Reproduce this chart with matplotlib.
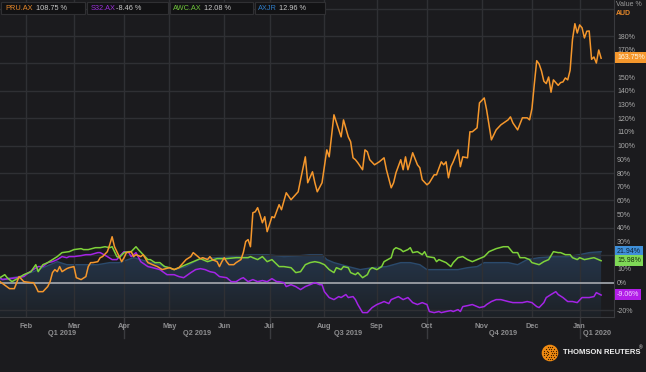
import matplotlib
matplotlib.use("Agg")
import matplotlib.pyplot as plt
import matplotlib.transforms as mtransforms
from matplotlib.patches import Rectangle, Circle
import numpy as np
import pandas as pd

plt.rcParams['font.family'] = ['Liberation Sans', 'DejaVu Sans']

# ASX trading calendar, session 0 = 16 Jan 2019
holidays = ['2019-01-28', '2019-04-19', '2019-04-22', '2019-04-25', '2019-06-10',
            '2019-12-25', '2019-12-26', '2020-01-01']
days = pd.bdate_range('2019-01-16', '2020-01-31', freq='C', holidays=holidays)

month_starts = ['2019-02-01', '2019-03-01', '2019-04-01', '2019-05-01', '2019-06-01', '2019-07-01',
                '2019-08-01', '2019-09-01', '2019-10-01', '2019-11-01', '2019-12-01', '2020-01-01']
month_labels = ['Feb', 'Mar', 'Apr', 'May', 'Jun', 'Jul', 'Aug', 'Sep', 'Oct', 'Nov', 'Dec', 'Jan']
quarter_starts = ['2019-04-01', '2019-07-01', '2019-10-01', '2020-01-01']
quarter_labels = ['Q1 2019', 'Q2 2019', 'Q3 2019', 'Q4 2019', 'Q1 2020']

# PRU.AX (orange)
pru_s = [0, 4, 6, 8, 10, 13, 14, 15, 16, 18, 20, 21, 22, 23, 24, 25, 26, 28, 29, 31, 32, 34, 36, 37, 38,
         39, 41, 42, 43, 45, 46, 47, 48, 49, 51, 52, 53, 55, 56, 57, 59, 60, 62, 64, 66, 68, 71, 73, 75,
         78, 80, 81, 83, 84, 85, 87, 88, 89, 91, 92, 93, 94, 95, 96, 98, 99, 101, 102, 103, 104, 105,
         106, 107, 108, 109, 110, 111, 112, 114, 115, 117, 118, 120, 122, 125, 126, 128, 129, 131, 132,
         133, 135, 137, 138, 140, 143, 144, 146, 147, 148, 149, 150, 152, 153, 154, 155, 157, 159, 161,
         162, 164, 165, 166, 168, 169, 170, 171, 172, 173, 175, 176, 177, 179, 180, 182, 183, 185, 186,
         187, 188, 189, 190, 192, 193, 194, 196, 197, 198, 200, 201, 203, 204, 206, 208, 210, 213, 214,
         215, 217, 219, 221, 222, 223, 224, 225, 226, 227, 228, 229, 230, 231, 232, 233, 234, 235, 236,
         237, 238, 239, 240, 241, 242, 243, 244, 245, 246, 247, 248, 249, 250, 251, 252]
pru_v = [0.7, -4.4, -4.4, 4.4, 0.7, 0.0, 0.0, -2.9, -6.6, -6.6, -2.9, 0.7, 7.3, 9.5, 8.0, 11.7, 8.0,
         10.2, 10.9, 11.7, 3.6, 2.2, 4.4, 11.7, 14.6, 14.6, 15.3, 18.2, 19.0, 22.6, 27.7, 33.5, 26.2,
         22.6, 15.3, 18.2, 21.9, 22.6, 19.0, 20.4, 19.0, 20.4, 14.6, 13.1, 11.7, 9.5, 10.9, 9.5, 10.9,
         16.8, 19.0, 21.9, 19.0, 17.5, 18.2, 16.8, 19.0, 16.8, 15.3, 11.7, 15.3, 18.2, 15.3, 13.1, 13.1,
         14.6, 16.8, 21.9, 30.0, 31.4, 26.2, 51.0, 51.7, 54.7, 49.6, 43.7, 48.1, 37.2, 48.1, 47.4, 56.9,
         53.2, 65.6, 60.5, 66.3, 75.0, 91.8, 72.9, 80.9, 72.9, 66.3, 72.9, 96.9, 91.8, 122.5, 106.4,
         118.8, 106.4, 102.8, 91.1, 89.7, 87.5, 82.4, 96.9, 95.5, 89.7, 86.0, 88.2, 91.1, 82.4, 69.2,
         72.9, 80.2, 89.7, 82.4, 91.8, 82.4, 88.2, 94.8, 86.0, 83.8, 75.1, 71.4, 72.9, 78.7, 78.7, 88.2,
         86.0, 88.2, 76.5, 84.6, 88.2, 96.9, 84.6, 91.8, 91.1, 110.1, 110.1, 113.0, 131.2, 134.8, 126.1,
         104.2, 111.5, 115.2, 118.8, 121.0, 116.6, 111.5, 120.3, 120.3, 118.8, 127.0, 145.0, 162.0,
         159.6, 154.5, 147.0, 145.3, 150.1, 139.0, 148.0, 146.0, 144.0, 146.0, 146.5, 149.4, 148.0,
         155.0, 177.5, 189.0, 182.2, 188.1, 186.0, 178.6, 183.5, 183.7, 163.0, 164.7, 160.3, 169.8, 163.8]

# S32.AX (purple)
s32_s = [0, 1, 4, 7, 10, 12, 14, 16, 18, 20, 22, 24, 26, 28, 29, 31, 34, 36, 38, 41, 42, 45, 47, 49, 50,
         52, 54, 55, 57, 59, 62, 64, 67, 70, 73, 75, 77, 80, 82, 84, 86, 88, 90, 92, 95, 97, 99, 101, 102,
         104, 106, 108, 110, 112, 114, 116, 117, 119, 120, 122, 124, 126, 128, 130, 132, 134, 135, 136,
         138, 140, 142, 143, 145, 146, 148, 149, 150, 152, 154, 156, 158, 160, 161, 163, 164, 166, 167,
         169, 171, 173, 175, 177, 179, 180, 182, 184, 185, 187, 189, 190, 192, 193, 194, 196, 198, 200,
         201, 203, 204, 206, 208, 210, 213, 215, 217, 219, 221, 223, 225, 226, 228, 229, 231, 233, 234,
         236, 238, 240, 242, 244, 247, 249, 250, 252]
s32_v = [3.6, 2.2, 2.9, 3.6, 4.4, 7.3, 9.5, 11.7, 11.7, 14.6, 15.3, 16.8, 19.0, 18.2, 19.0, 19.0, 19.7,
         20.4, 20.4, 21.9, 21.9, 19.0, 16.8, 16.8, 19.0, 22.6, 21.9, 19.0, 21.9, 15.3, 11.7, 10.9, 9.5,
         5.8, 5.8, 4.4, 3.6, 7.3, 9.5, 10.2, 9.5, 8.0, 7.3, 4.4, 3.6, 0.7, 0.7, 2.9, 3.6, 0.7, 2.2, 0.7,
         1.5, 0.7, 2.9, 0.7, 0.7, 0.0, -2.9, -1.5, -2.9, -5.1, -2.9, -1.5, 0.0, -1.5, -1.5, -6.6, -10.9,
         -12.4, -10.2, -10.9, -8.7, -10.9, -10.2, -12.4, -16.0, -21.9, -21.9, -18.2, -16.0, -14.6, -13.8,
         -15.3, -12.4, -10.9, -10.2, -12.4, -10.9, -14.6, -16.0, -14.6, -16.0, -21.1, -21.9, -21.1,
         -21.9, -21.1, -20.4, -21.1, -19.7, -21.1, -17.5, -16.8, -16.0, -17.5, -18.2, -17.5, -16.0,
         -13.8, -12.4, -12.4, -13.8, -14.6, -14.6, -14.6, -13.8, -14.6, -17.5, -18.2, -14.6, -10.9,
         -8.7, -6.6, -8.7, -10.9, -13.8, -13.8, -14.6, -10.9, -10.9, -10.2, -7.3, -9.06]

# AWC.AX (green)
awc_s = [0, 2, 3, 5, 8, 10, 13, 15, 16, 18, 20, 22, 24, 26, 29, 31, 34, 35, 37, 40, 42, 44, 46, 47, 49,
         50, 52, 54, 55, 57, 58, 60, 62, 63, 65, 67, 69, 71, 73, 75, 78, 81, 83, 84, 87, 91, 95, 99, 104,
         105, 106, 108, 110, 112, 114, 117, 119, 122, 124, 126, 128, 130, 132, 134, 136, 138, 140, 141,
         143, 144, 146, 147, 149, 150, 152, 154, 155, 156, 158, 160, 161, 164, 165, 166, 168, 169, 171,
         172, 173, 175, 177, 178, 179, 182, 183, 184, 187, 189, 190, 192, 194, 196, 198, 200, 203, 205,
         208, 211, 213, 214, 215, 217, 218, 220, 222, 223, 226, 228, 230, 232, 234, 235, 237, 239, 240,
         242, 243, 245, 247, 249, 252]
awc_v = [3.6, 5.8, 3.6, 0.7, 3.6, 5.8, 8.0, 13.1, 8.0, 13.1, 14.6, 16.8, 19.0, 21.9, 22.6, 24.1, 24.8,
         24.1, 24.1, 25.5, 25.5, 26.2, 25.5, 26.2, 19.0, 18.2, 21.9, 22.6, 22.6, 26.2, 24.1, 20.4, 16.8,
         16.8, 14.6, 14.6, 11.7, 10.9, 9.5, 10.9, 13.1, 15.3, 16.8, 17.5, 15.3, 17.5, 17.5, 18.2, 18.2,
         19.0, 18.2, 16.8, 19.0, 15.3, 16.8, 11.7, 11.7, 10.9, 7.3, 8.0, 13.1, 14.6, 15.3, 14.6, 13.1,
         9.5, 7.3, 10.9, 9.5, 11.7, 10.9, 7.3, 5.8, 7.3, 3.6, 5.8, 9.5, 10.9, 9.5, 11.7, 15.3, 18.2,
         24.1, 25.5, 24.1, 22.6, 24.1, 25.5, 21.9, 22.6, 20.4, 22.6, 19.0, 18.2, 15.3, 16.8, 14.6, 11.7,
         14.6, 18.2, 19.0, 16.8, 15.3, 16.8, 19.0, 22.6, 24.8, 26.2, 26.2, 24.1, 21.9, 21.9, 18.2, 18.2,
         16.8, 14.6, 13.1, 15.3, 16.8, 22.6, 21.9, 21.9, 20.4, 20.4, 18.2, 16.8, 18.2, 16.8, 17.5, 18.2,
         15.98]

# AXJR (blue area)
axjr_s = [0, 8, 14, 21, 24, 28, 34, 41, 46, 50, 56, 62, 67, 73, 78, 84, 91, 98, 105, 112, 119, 126, 130,
          135, 137, 140, 146, 151, 156, 162, 168, 172, 176, 179, 183, 187, 192, 196, 200, 203, 208, 213,
          217, 221, 226, 232, 238, 243, 247, 252]
axjr_v = [2.2, 4.4, 8.0, 13.1, 15.3, 13.1, 13.1, 13.1, 14.6, 14.6, 18.2, 15.3, 13.1, 9.5, 11.7, 17.5,
          18.2, 19.0, 20.4, 20.4, 19.0, 19.7, 20.4, 20.4, 16.8, 14.6, 11.7, 9.5, 10.9, 11.7, 14.6, 14.6,
          13.1, 9.5, 9.5, 9.5, 9.5, 10.9, 11.7, 14.6, 14.6, 14.6, 13.1, 16.8, 18.2, 19.0, 19.0, 20.4,
          21.9, 22.6]

legend_items = [('PRU.AX', '108.75 %'), ('S32.AX', '-8.46 %'), ('AWC.AX', '12.08 %'), ('AXJR', '12.96 %')]
end_labels = [('163.75%', 164.5), ('21.94%', 23.0), ('15.98%', 16.0), ('-9.06%', -8.4)]
# tick labels hidden behind the last-value boxes in the reference
hidden_ticks = [160, 20, -10]

bg = '#1b1b1e'
c_pru, c_s32, c_awc, c_axjr = '#f5972c', '#a424e6', '#7ed23a', '#3c8dd6'
grid_c = '#2f3034'


def session(d):
    return int(np.searchsorted(days.values, np.datetime64(d)))


W, H = 646, 372
fig = plt.figure(figsize=(W / 100, H / 100), dpi=100, facecolor=bg)
ax = fig.add_axes([0, 55 / H, 614 / W, 317 / H])
ax.set_facecolor(bg)
xmin, xmax = 0.0, 257.4
ymin, ymax = -25.1, 206.3

# gradient area for AXJR
fill = ax.fill_between(axjr_s, axjr_v, ymin, facecolor='none', edgecolor='none')
top = np.array([0.15, 0.22, 0.31])
bot = np.array([0.115, 0.13, 0.15])
g = np.linspace(1, 0, 200).reshape(-1, 1, 1)
img = bot + (top - bot) * g
img = np.repeat(img, 2, axis=1)
im = ax.imshow(img, extent=[xmin, xmax, ymin, 27], aspect='auto', origin='upper', zorder=1)
im.set_clip_path(fill.get_paths()[0], transform=ax.transData)
ax.plot(axjr_s, axjr_v, color='#2b4a6c', lw=1.0, zorder=1.2)

# grid
for v in range(-20, 201, 20):
    if v != 0:
        ax.axhline(v, color=grid_c, lw=1.0, zorder=1.5)
month_pos = [session(d) for d in month_starts]
for p in month_pos:
    ax.axvline(p, color=grid_c, lw=1.0, zorder=1.5)
ax.axhline(0, color='#9ca0a6', lw=1.3, zorder=2)

ax.plot(s32_s, s32_v, color=c_s32, lw=1.1, zorder=3)
ax.plot(awc_s, awc_v, color=c_awc, lw=1.1, zorder=4)
ax.plot(pru_s, pru_v, color=c_pru, lw=1.1, zorder=5)

ax.set_xlim(xmin, xmax)
ax.set_ylim(ymin, ymax)
for sp in ['left', 'top']:
    ax.spines[sp].set_visible(False)
for sp in ['right', 'bottom']:
    ax.spines[sp].set_color('#3a3b3f')
ax.set_xticks([])
ax.yaxis.tick_right()
yt = list(range(-20, 181, 10))
ax.set_yticks(yt)
ax.set_yticklabels(['' if v in hidden_ticks else f'{v}%' for v in yt])
ax.tick_params(axis='y', length=0, pad=2.2, labelsize=5, labelcolor='#a8a8a8')

# month and quarter labels
xt = ax.get_xaxis_transform()
for p, lab in zip(month_pos, month_labels):
    ax.text(p, -9 / 317, lab, transform=xt, ha='center', va='center', fontsize=5.3,
            fontweight='bold', color='#8e8e90')
q_pos = [session(d) for d in quarter_starts]
for p in q_pos:
    ax.plot([p, p], [0, -21 / 317], transform=xt, color='#3a3b3f', lw=1.0, clip_on=False)
q_edges = [xmin] + q_pos + [xmax]
for i, lab in enumerate(quarter_labels):
    ax.text((q_edges[i] + q_edges[i + 1]) / 2, -16.5 / 317, lab, transform=xt, ha='center',
            va='center', fontsize=5.3, fontweight='bold', color='#8e8e90')

# last value labels
bt = mtransforms.blended_transform_factory(ax.transAxes, ax.transData)
box_styles = [(c_pru, '#fff6e6'), ('#3f8fd8', '#0e2236'), ('#7fd957', '#16300a'), ('#b21ee8', '#f2d6ff')]
for (txt, v), (fc, tc) in zip(end_labels, box_styles):
    ax.text(1 + 3 / 614, v, txt, transform=bt, ha='left', va='center', fontsize=5, color=tc,
            bbox=dict(boxstyle='square,pad=0.3', fc=fc, ec='none'), zorder=10, clip_on=False)

# header legend
def fx(px):
    return px / W


def fy(py):
    return 1 - py / H


boxes = [(1, 85), (87, 168), (170, 253), (255, 325)]
name_x = [5, 91, 173, 258]
val_x = [36, 116, 204, 279]
name_c = ['#e8892a', '#9b30d9', '#6fc53a', '#2f7bc4']
for (x0, x1), nx, vx, nc, (nm, val) in zip(boxes, name_x, val_x, name_c, legend_items):
    fig.patches.append(Rectangle((fx(x0), fy(14)), fx(x1 - x0), 12 / H, transform=fig.transFigure,
                                 facecolor='#121214', edgecolor='#303033', lw=0.8, zorder=5))
    fig.text(fx(nx), fy(8), nm, color=nc, fontsize=5.3, va='center', ha='left', zorder=6)
    fig.text(fx(vx), fy(8), val, color='#c8c8c8', fontsize=5.3, va='center', ha='left', zorder=6)

fig.text(fx(616), fy(5), 'Value %', color='#9a9a9a', fontsize=5, va='center', ha='left')
fig.text(fx(616), fy(13.5), 'AUD', color='#e8892a', fontsize=5, fontweight='bold', va='center', ha='left')

# Thomson Reuters mark
cx, cy = 550 / 100, (H - 353) / 100
fig.patches.append(Circle((cx, cy), 0.083, transform=fig.dpi_scale_trans, facecolor='#ef8a12',
                          edgecolor='none'))
for r in [0.02, 0.04, 0.062]:
    n = int(r * 260)
    ang = np.linspace(0, 2 * np.pi, n, endpoint=False)
    fig.lines.append(plt.Line2D(cx + r * np.cos(ang), cy + r * np.sin(ang), transform=fig.dpi_scale_trans,
                                ls='none', marker='o', ms=0.9, mfc='#3a1e00', mec='none'))
fig.text(fx(563), fy(353), 'THOMSON REUTERS', color='#f0f0f0', fontsize=5.5, fontweight='bold',
         va='center', ha='left')
fig.text(fx(639), fy(348), '\u00ae', color='#f0f0f0', fontsize=3.5, va='center', ha='left')

fig.savefig('out.png', dpi=100, facecolor=bg)
